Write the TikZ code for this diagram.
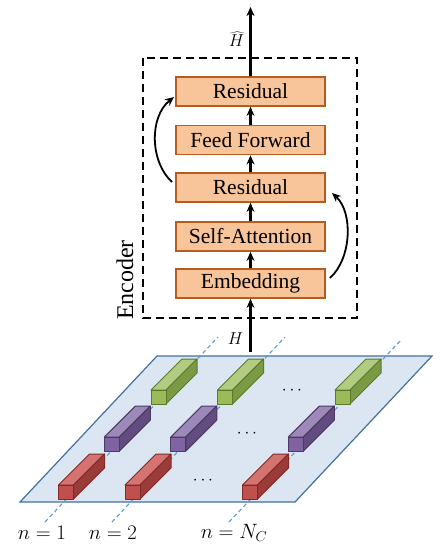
\documentclass[tikz,border=0pt]{standalone}
\usepackage{fontspec}
\setmainfont{Liberation Serif}
\usetikzlibrary{arrows.meta}
\definecolor{boxfill}{HTML}{F8C49A}
\definecolor{boxline}{HTML}{B85C1E}
\definecolor{planefill}{HTML}{DCE6F2}
\definecolor{planeline}{HTML}{41719C}
\definecolor{axisline}{HTML}{5B9BD5}
\definecolor{redF}{HTML}{C0504D}\definecolor{redT}{HTML}{D4736F}\definecolor{redS}{HTML}{9C3C39}\definecolor{redL}{HTML}{7F2B29}
\definecolor{purF}{HTML}{8064A2}\definecolor{purT}{HTML}{9D88BA}\definecolor{purS}{HTML}{634D80}\definecolor{purL}{HTML}{4B3A62}
\definecolor{grnF}{HTML}{9BBB59}\definecolor{grnT}{HTML}{B2CD82}\definecolor{grnS}{HTML}{7A9A44}\definecolor{grnL}{HTML}{5C7A2E}
\newcommand{\drawbar}[6]{%
  \filldraw[draw=#6,line width=1pt,line join=round,fill=#4] (#1,#2) -- (#1+15,#2) -- (#1+46,#2-31) -- (#1+31,#2-31) -- cycle;
  \filldraw[draw=#6,line width=1pt,line join=round,fill=#5] (#1+15,#2) -- (#1+46,#2-31) -- (#1+46,#2-17) -- (#1+15,#2+14) -- cycle;
  \filldraw[draw=#6,line width=1pt,line join=round,fill=#3] (#1,#2) rectangle (#1+15,#2+14);
}
\tikzset{
  layer/.style={draw=boxline, fill=boxfill, line width=1.8pt, minimum width=149pt, minimum height=29pt, inner sep=0pt, font=\fontsize{21.5}{24}\selectfont},
  flow/.style={line width=2.2pt, -{Stealth[length=9pt,width=8pt]}},
  skip/.style={line width=1.8pt, -{Stealth[length=9pt,width=8pt]}},
  axis/.style={draw=axisline, line width=1.1pt, dash pattern=on 4pt off 3pt},
  dotsl/.style={font=\fontsize{16}{18}\selectfont},
  nlab/.style={font=\fontsize{21}{24}\selectfont},
  hlabel/.style={font=\fontsize{19}{21}\selectfont, inner sep=1pt}
}
\begin{document}
\begin{tikzpicture}[x=1pt,y=-1pt]
\useasboundingbox (0,0) rectangle (442,547);
% encoder frame
\draw[line width=1.2pt, dash pattern=on 8pt off 5pt] (143,58) rectangle (357,318);
\node[rotate=90, font=\fontsize{24}{26}\selectfont] (enc) at (125,280) {Encoder};
% layers
\node[layer] (res2) at (250.5,91.5) {Residual};
\node[layer] (ff) at (250.5,140) {Feed Forward};
\node[layer] (res1) at (250.5,187.5) {Residual};
\node[layer] (sa) at (250.5,236.5) {Self-Attention};
\node[layer] (emb) at (250.5,283.5) {Embedding};
\draw[flow] (emb) -- (sa);
\draw[flow] (sa) -- (res1);
\draw[flow] (res1) -- (ff);
\draw[flow] (ff) -- (res2);
\coordinate (top) at (250.5,7);
\coordinate (bot) at (250.5,352);
\draw[flow] (res2) -- (top);
\node[hlabel] (hhat) at (236.5,39) {$\widehat{H}$};
% skip arrows
\coordinate (l1) at (172,182);
\coordinate (l2) at (174,97);
\draw[skip] (l1) .. controls (150,162) and (149,117) .. (l2);
\coordinate (r1) at (330,278);
\coordinate (r2) at (332,193);
\draw[skip] (r1) .. controls (352,258) and (353,212) .. (r2);
% plane
\filldraw[fill=planefill, draw=planeline, line width=1.2pt] (157,356) -- (432,356) -- (295,502) -- (20,502) -- cycle;
\draw[axis] (45,522) -- (218,337);
\draw[axis] (112,522) -- (285,337);
\draw[axis] (229,522) -- (402,339);
\draw[flow] (bot) -- (emb);
\node[hlabel] (hlab) at (235.5,339) {$H$};
% bars: red row
\drawbar{58.5}{485}{redF}{redT}{redS}{redL}
\drawbar{125}{485}{redF}{redT}{redS}{redL}
\drawbar{242.5}{485}{redF}{redT}{redS}{redL}
% purple row
\drawbar{104.3}{437}{purF}{purT}{purS}{purL}
\drawbar{170.8}{437}{purF}{purT}{purS}{purL}
\drawbar{288.3}{437}{purF}{purT}{purS}{purL}
% green row
\drawbar{151}{390}{grnF}{grnT}{grnS}{grnL}
\drawbar{217.5}{390}{grnF}{grnT}{grnS}{grnL}
\drawbar{335}{390}{grnF}{grnT}{grnS}{grnL}
% dots
\node[dotsl] (d1) at (203,481) {$\cdots$};
\node[dotsl] (d2) at (247,434) {$\cdots$};
\node[dotsl] (d3) at (292,391) {$\cdots$};
% labels
\node[nlab] (n1) at (42,533) {$n=1$};
\node[nlab] (n2) at (113,533) {$n=2$};
\node[nlab] (nc) at (234,533) {$n=N_C$};
\end{tikzpicture}
\end{document}
